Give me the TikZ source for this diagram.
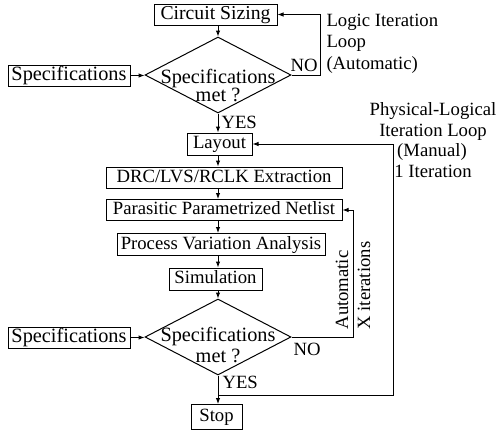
\documentclass[tikz,border=0pt]{standalone}
\usepackage{fontspec}
\setmainfont{Liberation Serif}
\usetikzlibrary{arrows.meta,shapes.geometric}
\newcommand\fsA{\fontsize{18.7pt}{20.5pt}\selectfont}
\newcommand\fsB{\fontsize{20.3pt}{22pt}\selectfont}
\newcommand\fsC{\fontsize{19.7pt}{22pt}\selectfont}
\begin{document}
\begin{tikzpicture}[x=1pt,y=-1pt,line width=1pt,
  box/.style={draw,rectangle,inner sep=0pt,text height=13.5pt,text depth=4pt,font=\fsA},
  dia/.style={draw,diamond,inner sep=0pt,minimum width=146pt,minimum height=76pt},
  arr/.style={-{Latex[length=6pt,width=4.5pt]}},
  lbl/.style={inner sep=0pt,font=\fsA,anchor=base west},
  mid/.style={inner sep=0pt,font=\fsB,anchor=base}]
\useasboundingbox (0,0) rectangle (499,431);
\coordinate (ax) at (218,0);
% top part
\node[box,minimum width=123pt,minimum height=21pt,font=\fsC] (cs) at (215.5,14.5) {Circuit Sizing};
\node[dia] (d1) at (218,75) {};
\node[mid] (d1a) at (218,83) {Specifications};
\node[mid] (d1b) at (218,101.5) {met ?};
\node[box,minimum width=122pt,minimum height=21pt,font=\fsB] (sp1) at (69,75.5) {Specifications};
% chain
\node[box,minimum width=65pt,minimum height=22pt] (lay) at (219.5,144) {Layout};
\node[box,minimum width=236pt,minimum height=21pt] (drc) at (224,177.5) {DRC/LVS/RCLK Extraction};
\node[box,minimum width=236pt,minimum height=21pt] (par) at (224,210) {Parasitic Parametrized Netlist};
\node[box,minimum width=208pt,minimum height=22pt] (pva) at (221,244.5) {Process Variation Analysis};
\node[box,minimum width=93pt,minimum height=22pt] (sim) at (215.5,279) {Simulation};
\node[dia] (d2) at (218,337) {};
\node[mid] (d2a) at (218,341) {Specifications};
\node[mid] (d2b) at (218,362) {met ?};
\node[box,minimum width=122pt,minimum height=21pt,font=\fsB] (sp2) at (69,337.5) {Specifications};
\node[box,minimum width=51pt,minimum height=25pt] (stop) at (216.5,417) {Stop};
% labels
\node[lbl] (yes1) at (221,128) {YES};
\node[lbl] (no1) at (290,71) {NO};
\node[lbl] (li1) at (326,27) {Logic Iteration};
\node[lbl] (li2) at (326,48) {Loop};
\node[lbl] (li3) at (326,69) {(Automatic)};
\node[lbl] (no2) at (293,355) {NO};
\node[lbl] (yes2) at (222,388) {YES};
\node[lbl,anchor=base] (pl1) at (433,115) {Physical-Logical};
\node[lbl,anchor=base] (pl2) at (433,136) {Iteration Loop};
\node[lbl,anchor=base] (pl3) at (432,156.5) {(Manual)};
\node[lbl,anchor=base] (pl4) at (433,177) {1 Iteration};
\node[lbl,rotate=90] (au1) at (348,330) {Automatic};
\node[lbl,rotate=90] (au2) at (370,330) {X iterations};
% connectors
\draw[arr] (cs.south -| d1.north) -- (d1.north);
\draw[arr] (sp1.east) -- (sp1.east -| d1.west);
\draw[arr] (d1.east) -- ++(29,0) |- (cs.east);
\draw[arr] (d1.south) -- (d1.south |- lay.north);
\draw[arr] (lay.south -| ax) -- (drc.north -| ax);
\draw[arr] (drc.south -| ax) -- (par.north -| ax);
\draw[arr] (par.south -| ax) -- (pva.north -| ax);
\draw[arr] (pva.south -| ax) -- (sim.north -| ax);
\draw[arr] (sim.south -| ax) -- (d2.north);
\draw[arr] (sp2.east) -- (sp2.east -| d2.west);
\draw[arr] (d2.east) -- ++(62,0) |- (par.east);
\draw[arr] (d2.south) -- (d2.south |- stop.north);
\coordinate (j) at (218,395);
\draw[arr] (j) -- ++(175,0) |- (lay.east);
\end{tikzpicture}
\end{document}
